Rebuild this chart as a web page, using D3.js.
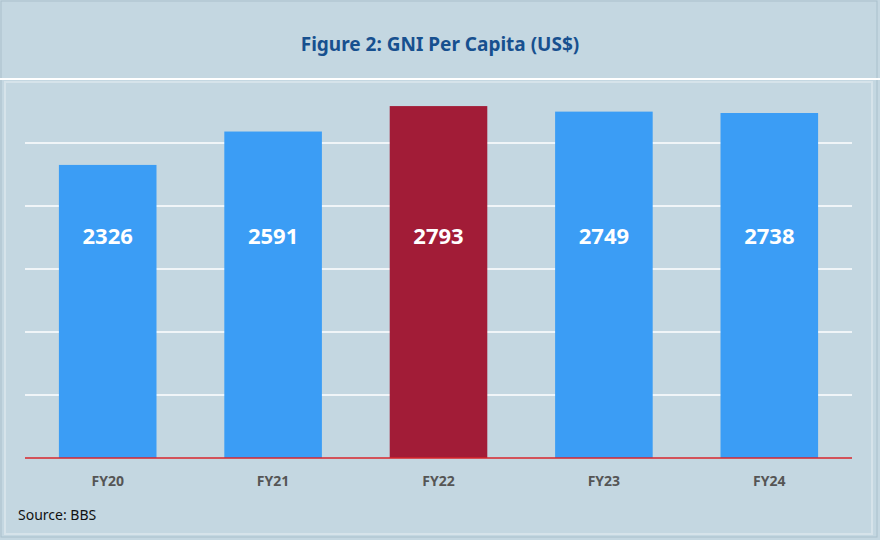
<!DOCTYPE html>
<meta charset="utf-8">
<style>
    body { margin: 0; background: #fff; }
    text { font-family: "Noto Sans", "Open Sans", sans-serif; }
</style>
<svg width="880" height="540"></svg>
<script src="https://d3js.org/d3.v7.min.js"></script>
<script>
    var years = ["FY20", "FY21", "FY22", "FY23", "FY24"];
    var gni = [2326, 2591, 2793, 2749, 2738];
    var highlight = ["FY22"];
    var gridTicks = [500, 1000, 1500, 2000, 2500];

    var svg = d3.select("svg");
    var bg = "#c4d7e1";

    svg.append("rect").attr("x", 0).attr("y", 0).attr("width", 880).attr("height", 540)
        .attr("fill", bg);
    svg.append("rect").attr("x", 1).attr("y", 1).attr("width", 876).attr("height", 536)
        .attr("fill", "none").attr("stroke", "#a9c0cc");
    svg.append("line").attr("x1", 0).attr("x2", 880).attr("y1", 79).attr("y2", 79)
        .attr("stroke", "#fff").attr("stroke-width", 2);
    svg.append("rect").attr("x", 5).attr("y", 82).attr("width", 867).attr("height", 452)
        .attr("fill", "none").attr("stroke", "#d6e3ea").attr("stroke-width", 2);

    svg.append("text").attr("x", 440).attr("y", 51).attr("text-anchor", "middle")
        .style("font-size", "19px").style("font-weight", "bold").attr("fill", "#17508f")
        .text("Figure 2: GNI Per Capita (US$)");

    var x = d3.scaleBand().domain(years).range([25, 852]).paddingInner(0.41).paddingOuter(0.205);
    var y = d3.scaleLinear().domain([0, 3000]).range([458, 80]);

    svg.selectAll(".grid").data(gridTicks).enter().append("line")
        .attr("x1", 25).attr("x2", 852)
        .attr("y1", function (d) { return y(d); }).attr("y2", function (d) { return y(d); })
        .attr("stroke", "#fff").attr("stroke-width", 1.5);

    svg.selectAll(".bar").data(years).enter().append("rect")
        .attr("x", function (d) { return x(d); })
        .attr("width", x.bandwidth())
        .attr("y", function (d, i) { return y(gni[i]); })
        .attr("height", function (d, i) { return y(0) - y(gni[i]); })
        .attr("fill", function (d) { return highlight.indexOf(d) >= 0 ? "#a21c37" : "#3b9df5"; });

    svg.append("line").attr("x1", 25).attr("x2", 852).attr("y1", y(0)).attr("y2", y(0))
        .attr("stroke", "#d9262b").attr("stroke-width", 1.5);

    svg.selectAll(".val").data(years).enter().append("text")
        .attr("x", function (d) { return x(d) + x.bandwidth() / 2; })
        .attr("y", y(1700))
        .attr("text-anchor", "middle")
        .style("font-size", "22px").style("font-weight", "bold").attr("fill", "#fff")
        .text(function (d, i) { return gni[i]; });

    svg.selectAll(".cat").data(years).enter().append("text")
        .attr("x", function (d) { return x(d) + x.bandwidth() / 2; })
        .attr("y", 486)
        .attr("text-anchor", "middle")
        .style("font-size", "14px").style("font-weight", "bold").attr("fill", "#555")
        .text(function (d) { return d; });

    svg.append("text").attr("x", 18).attr("y", 520)
        .style("font-size", "14px").attr("fill", "#111").text("Source: BBS");
</script>
